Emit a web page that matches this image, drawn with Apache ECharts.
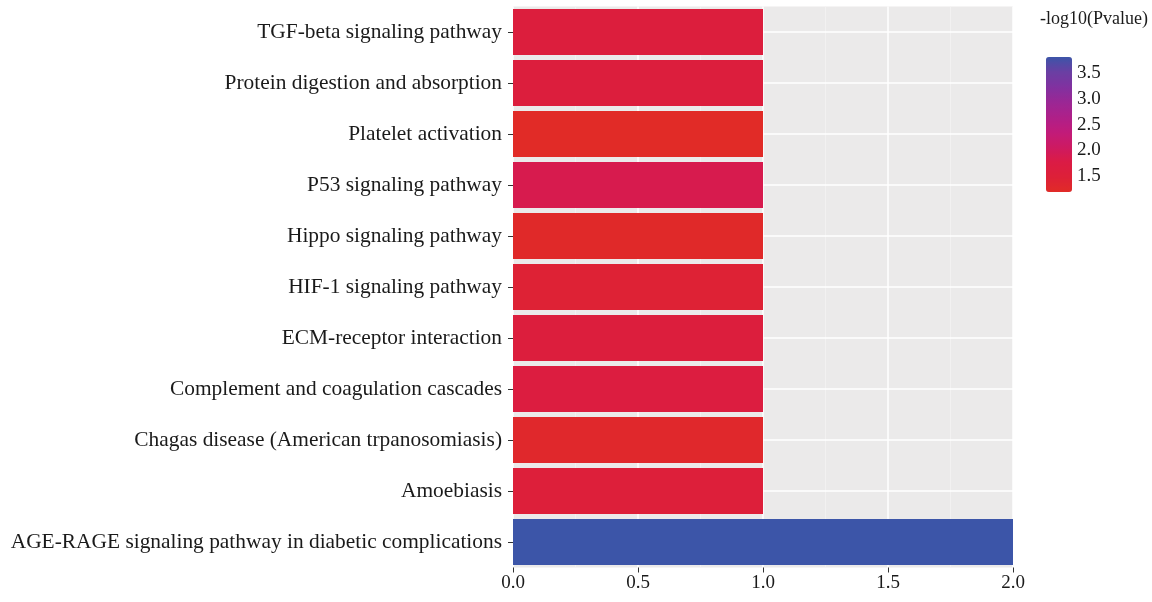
<!DOCTYPE html>
<html>
<head>
<meta charset="utf-8">
<title>KEGG enrichment</title>
<script src="https://cdn.jsdelivr.net/npm/echarts@6/dist/echarts.min.js"></script>
<style>
  html, body { margin: 0; padding: 0; background: #fff; }
  #main { width: 1152px; height: 602px; }
</style>
</head>
<body>
<div id="main"></div>
<script>
// pathways, bottom to top (category axis runs upward)
var pathways = [
  'AGE-RAGE signaling pathway in diabetic complications',
  'Amoebiasis',
  'Chagas disease (American trpanosomiasis)',
  'Complement and coagulation cascades',
  'ECM-receptor interaction',
  'HIF-1 signaling pathway',
  'Hippo signaling pathway',
  'P53 signaling pathway',
  'Platelet activation',
  'Protein digestion and absorption',
  'TGF-beta signaling pathway'
];
var geneCount = [2, 1, 1, 1, 1, 1, 1, 1, 1, 1, 1];
var logP = [3.81, 1.55, 1.30, 1.68, 1.62, 1.45, 1.25, 1.88, 1.21, 1.60, 1.62];
var xTicks = [0, 0.5, 1.0, 1.5, 2.0];
var legendTicks = [3.5, 3.0, 2.5, 2.0, 1.5];

var pMin = Math.min.apply(null, logP);
var pMax = Math.max.apply(null, logP);

var serif = 'Liberation Serif';
var bar = { left: 1046, top: 57, w: 26, h: 135 };

var myChart = echarts.init(document.getElementById('main'));

// colour bar labels placed along the bar by value
var legendLabels = legendTicks.map(function (v) {
  return {
    type: 'text',
    left: bar.left + bar.w + 5,
    top: bar.top + (pMax - v) / (pMax - pMin) * bar.h - 10,
    style: { text: v.toFixed(1), font: '19px "' + serif + '"', fill: '#1a1a1a' }
  };
});

myChart.setOption({
  animation: false,
  backgroundColor: '#ffffff',
  grid: {
    left: 513, right: 139, top: 6.5, bottom: 34.5,
    show: true, backgroundColor: '#EBEAEA', borderWidth: 0
  },
  xAxis: {
    type: 'value', min: 0, max: 2, interval: 0.5,
    axisLine: { show: false },
    axisTick: { show: true, length: 5, lineStyle: { color: '#333' } },
    axisLabel: {
      margin: 6, color: '#1a1a1a', fontFamily: serif, fontSize: 19,
      formatter: function (v) { return v.toFixed(1); }
    },
    splitLine: { show: true, lineStyle: { color: '#ffffff', width: 1.5 } },
    minorTick: { show: false, splitNumber: 2 },
    minorSplitLine: { show: true, lineStyle: { color: '#F4F3F3', width: 0.8 } }
  },
  yAxis: {
    type: 'category', data: pathways,
    axisLine: { show: false },
    axisTick: { show: true, alignWithLabel: true, length: 5, lineStyle: { color: '#333' } },
    axisLabel: { margin: 11, color: '#1a1a1a', fontFamily: serif, fontSize: 21.4 },
    splitLine: { show: false }
  },
  visualMap: {
    type: 'continuous',
    min: pMin, max: pMax,
    dimension: 2,
    seriesIndex: 0,
    calculable: false,
    left: bar.left, top: bar.top,
    itemWidth: bar.w, itemHeight: bar.h,
    padding: 0,
    text: null,
    inRange: {
      color: ['#E12B27', '#DD2038', '#DB1B45', '#CD1A62', '#C11B7A', '#AE2089', '#9A2795', '#8131A0', '#6A3FA3', '#3C55A8']
    }
  },
  graphic: [{
    type: 'text', left: 1040, top: 10,
    style: { text: '-log10(Pvalue)', font: '18px "' + serif + '"', fill: '#1a1a1a' }
  }].concat(legendLabels),
  series: [{
    type: 'bar',
    barCategoryGap: '10%',
    encode: { x: 0, y: 1 },
    data: pathways.map(function (p, i) { return [geneCount[i], p, logP[i]]; }),
    markLine: {
      silent: true, symbol: 'none', z: 1,
      label: { show: false },
      lineStyle: { color: '#ffffff', width: 1.5, type: 'solid' },
      data: pathways.map(function (p) { return { yAxis: p }; })
    }
  }]
});
</script>
</body>
</html>
